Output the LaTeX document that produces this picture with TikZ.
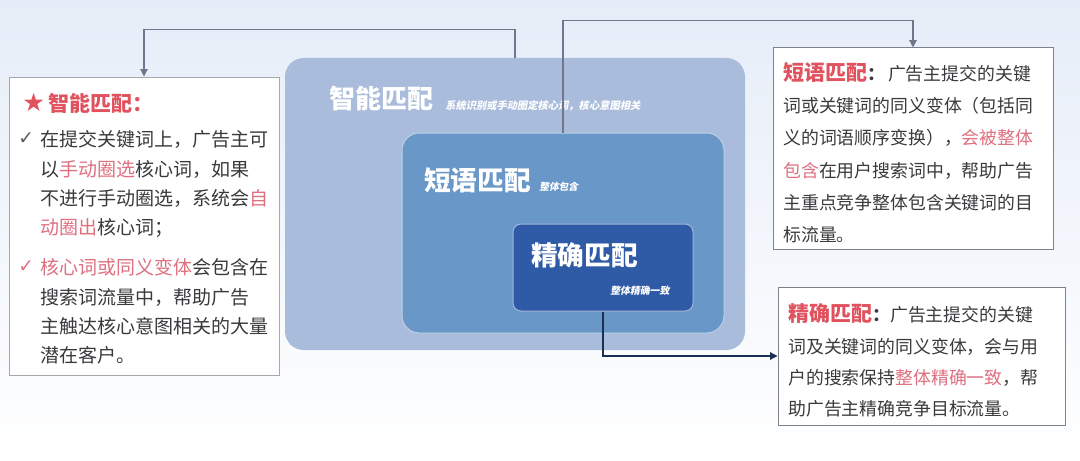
\documentclass[tikz,border=0pt]{standalone}
\usepackage{fontspec}
\setmainfont{Noto Sans CJK SC}
\newfontfamily\slantfont[FakeSlant=0.2]{Noto Sans CJK SC}
\newfontfamily\symfont{DejaVu Sans}
\definecolor{smartfill}{RGB}{170,188,219}
\definecolor{phrasefill}{RGB}{104,151,200}
\definecolor{exactfill}{RGB}{47,91,166}
\definecolor{hotred}{RGB}{224,82,94}
\definecolor{softred}{RGB}{222,112,128}
\definecolor{bodygray}{RGB}{58,58,62}
\definecolor{checkgray}{RGB}{90,90,96}
\definecolor{framegray}{RGB}{128,128,138}
\definecolor{linkgray}{RGB}{112,118,140}
\definecolor{linknavy}{RGB}{28,48,86}
\definecolor{bgblue}{RGB}{230,237,248}
\usetikzlibrary{arrows.meta, positioning, calc}

\begin{document}
\begin{tikzpicture}[x=0.75pt, y=-0.75pt,
  notebox/.style={draw=#1, fill=white, line width=0.75pt, inner sep=0pt},
  link/.style={draw=#1, line width=0.9pt, -{Triangle[width=5.5pt,length=5.5pt]}},
  boxname/.style={anchor=west, inner sep=0pt, text=white, font=\fontsize{#1}{#1}\selectfont\bfseries},
  boxhint/.style={anchor=west, inner sep=0pt, text=white, font=\fontsize{#1}{#1}\slantfont\bfseries},
  notetext/.style={anchor=north west, inner sep=0pt, align=left, text=bodygray}]
  \useasboundingbox (0,0) rectangle (1080,460);
  % y axis points down, so the shading colours are swapped
  \shade[top color=bgblue, bottom color=white] (0,0) rectangle (1080,460);

  % nested match boxes
  \node[fill=smartfill, rounded corners=14pt, minimum width=345pt, minimum height=219pt] (smart) at (515,204) {};
  \node[fill=phrasefill, draw=phrasefill!45!white, line width=0.75pt, rounded corners=13pt, minimum width=241.5pt, minimum height=150pt] (phrase) at (563,233) {};
  \node[fill=exactfill, draw=exactfill!45!white, line width=0.75pt, rounded corners=6pt, minimum width=135pt, minimum height=65.25pt] (exact) at (603,267.5) {};

  \node[boxname=19.5] (smartname) at (329,99) {智能匹配};
  \node[boxhint=7.7] (smarthint) at (445,106) {系统识别或手动圈定核心词，核心意图相关};
  \node[boxname=20] (phrasename) at (424,180) {短语匹配};
  \node[boxhint=7.3] (phrasehint) at (539,187) {整体包含};
  \node[boxname=20] (exactname) at (531,255) {精确匹配};
  \node[boxhint=7.4] (exacthint) at (610,291) {整体精确一致};

  % smart match note
  \node[notebox=framegray!70!white, minimum width=202.5pt, minimum height=223.5pt] (smartnote) at (144,226) {};
  \node[anchor=west, inner sep=0pt, text=hotred, font=\fontsize{15.75}{18}\selectfont\bfseries] (smarttitle) at (22,103) {{\symfont\fontsize{19}{19}\selectfont ★}\,智能匹配：};
  \node[anchor=west, inner sep=0pt, text=checkgray, font=\symfont\fontsize{14}{14}\selectfont] (checkone) at (18,139) {✓};
  \node[anchor=west, inner sep=0pt, text=softred, font=\symfont\fontsize{14}{14}\selectfont] (checktwo) at (18,267) {✓};
  \node[notetext, font=\fontsize{14.25}{22}\selectfont] (smartfirst) at (40,130.5) {在提交关键词上，广告主可\\以\textcolor{softred}{手动圈选}核心词，如果\\不进行手动圈选，系统会\textcolor{softred}{自}\\\textcolor{softred}{动圈出}核心词；};
  \node[notetext, font=\fontsize{14.25}{22}\selectfont] (smartsecond) at (40,258.5) {\textcolor{softred}{核心词或同义变体}会包含在\\搜索词流量中，帮助广告\\主触达核心意图相关的大量\\潜在客户。};

  % phrase match note
  \node[notebox=framegray, minimum width=210pt, minimum height=150.75pt] (phrasenote) at (913,148.5) {};
  \node[notetext, font=\fontsize{13.4}{24.2}\selectfont] (phrasetext) at (783,62) {\textcolor{hotred}{\fontsize{15.75}{24.2}\selectfont\bfseries 短语匹配}\textbf{：}\,广告主提交的关键\\词或关键词的同义变体（包括同\\义的词语顺序变换），\textcolor{softred}{会被整体}\\\textcolor{softred}{包含}在用户搜索词中，帮助广告\\主重点竞争整体包含关键词的目\\标流量。};

  % exact match note
  \node[notebox=framegray, minimum width=215.25pt, minimum height=103.5pt] (exactnote) at (921.5,356) {};
  \node[notetext, font=\fontsize{13.4}{23.5}\selectfont] (exacttext) at (788,303.5) {\textcolor{hotred}{\fontsize{15.75}{23.5}\selectfont\bfseries 精确匹配}\textbf{：}广告主提交的关键\\词及关键词的同义变体，会与用\\户的搜索保持\textcolor{softred}{整体精确一致}，帮\\助广告主精确竞争目标流量。};

  % connectors
  \draw[link=linkgray] (smart.north) -- ++(0,-28) -| (smartnote.north);
  \draw[link=linkgray] (phrase.north) -- ++(0,-112) -| (phrasenote.north);
  \draw[link=linknavy] (exact.south) |- (exactnote.west);
\end{tikzpicture}
\end{document}
